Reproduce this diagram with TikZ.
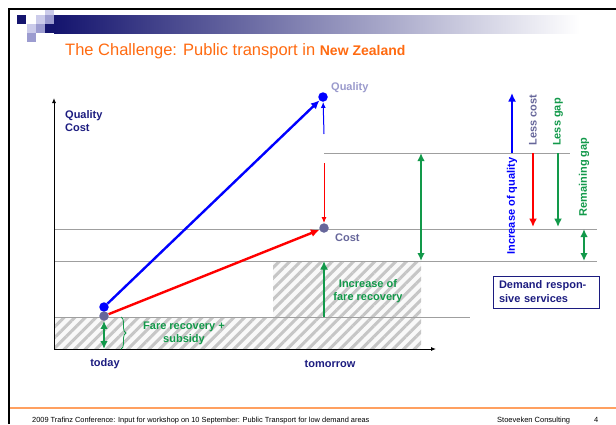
\documentclass[tikz,border=0pt]{standalone}
\usepackage{fontspec}
\setmainfont{Liberation Sans}
\usepackage{tikz}
\usetikzlibrary{arrows.meta,decorations.pathreplacing,patterns.meta,positioning}

\definecolor{navytxt}{HTML}{1C1C80}
\definecolor{barnavy}{HTML}{14146E}
\definecolor{greenarr}{HTML}{12994A}
\definecolor{titleorange}{HTML}{FF6A10}
\definecolor{footorange}{HTML}{FFA060}
\definecolor{lavlight}{HTML}{9A9ACC}
\definecolor{lavdark}{HTML}{66669A}
\definecolor{sqlight}{HTML}{CBCBEA}
\definecolor{sqmid}{HTML}{9C9CD0}

\tikzset{
  txt/.style={inner sep=0pt, font=\fontsize{11}{13}\selectfont},
  btxt/.style={inner sep=0pt, font=\fontsize{11}{13}\selectfont\bfseries},
  ball/.style={circle, inner sep=0pt, minimum size=9.5pt},
  gapline/.style={draw=gray!75, line width=0.9pt},
  hatch/.style={preaction={fill=gray!5}, pattern={Lines[angle=45,distance=7.5pt,line width=3pt]}, pattern color=gray!45},
  fat/.style={line width=2.4pt, -{Latex[length=8.5pt,width=8pt]}},
  fatboth/.style={line width=2.2pt, {Latex[length=8pt,width=7.5pt]}-{Latex[length=8pt,width=7.5pt]}},
  slim/.style={line width=1pt, -{Latex[length=6pt,width=5pt]}},
}

\begin{document}
\begin{tikzpicture}[x=1pt,y=-1pt]
    \useasboundingbox (0,0) rectangle (616,424);

    % slide frame and header
    \draw[line width=2pt] (8.5,424) -- (8.5,9) -- (616,9);
    \shade[left color=barnavy, right color=white] (54,15) rectangle (580,33);
    \fill[barnavy] (45,24) rectangle (54,33);
    \fill[barnavy] (17,15) rectangle (26,24);
    \fill[sqlight] (36,15) rectangle (45,24);
    \fill[sqlight] (45,10) rectangle (54,15);
    \fill[sqmid] (45,15) rectangle (54,24);
    \fill[sqlight] (27,24) rectangle (36,33);
    \fill[sqmid] (36,24) rectangle (45,33);
    \fill[sqmid] (27,33) rectangle (36,42);

    \node (title) at (65,55) [anchor=base west, inner sep=0pt, text=titleorange]
      {\fontsize{16.5}{18}\selectfont The Challenge: Public transport in \fontsize{14}{16}\selectfont\bfseries New Zealand};

    % footer
    \coordinate (fl) at (10,408);
    \coordinate (fr) at (616,408);
    \draw[footorange, line width=1.2pt] (fl) -- (fr);
    \node (foot) at (32,422) [anchor=base west, inner sep=0pt, font=\fontsize{7.4}{9}\selectfont]
      {2009 Trafinz Conference: Input for workshop on 10 September: Public Transport for low demand areas};
    \node (firm) at (497,422) [anchor=base west, inner sep=0pt, font=\fontsize{7.5}{9}\selectfont] {Stoeveken Consulting};
    \node (page) at (594,422) [anchor=base west, inner sep=0pt, font=\fontsize{7.5}{9}\selectfont] {4};

    % hatched areas
    \fill[hatch] (54,317) rectangle (421,349);
    \fill[hatch] (273,261) rectangle (421,317);

    % level lines
    \coordinate (l1a) at (324,153);  \coordinate (l1b) at (570,153);
    \coordinate (l2a) at (54,229);   \coordinate (l2b) at (597,229);
    \coordinate (l3a) at (54,261);   \coordinate (l3b) at (597,261);
    \coordinate (l4a) at (54,317);   \coordinate (l4b) at (470,317);
    \draw[gapline] (l1a) -- (l1b);
    \draw[gapline] (l2a) -- (l2b);
    \draw[gapline] (l3a) -- (l3b);
    \draw[gapline] (l4a) -- (l4b);

    % axes
    \coordinate (origin) at (54,349);
    \coordinate (ytop) at (54,98);
    \coordinate (xend) at (436,349);
    \draw[line width=0.9pt, -{Latex[length=5pt,width=4pt]}] (origin) -- (ytop);
    \draw[line width=0.9pt, -{Latex[length=5pt,width=4pt]}] (origin) -- (xend);

    \node (qc) at (65,110) [anchor=north west, align=left, btxt, text=navytxt] {Quality\\Cost};
    \node (today) at (105,364) [btxt, text=navytxt] {today};
    \node (tomorrow) at (330,364) [btxt, text=navytxt] {tomorrow};

    % points
    \node (qnow) at (104,307) [ball, fill=blue] {};
    \node (cnow) at (104,316) [ball, fill=lavdark] {};
    \node (qnext) at (323,97) [ball, fill=blue] {};
    \node (cnext) at (324,228) [ball, fill=lavdark] {};
    \node (qlbl) at (331,88) [anchor=west, btxt, text=lavlight] {Quality};
    \node (clbl) at (335,238) [anchor=west, btxt, text=lavdark] {Cost};

    \draw[fat, blue] (qnow) -- (qnext);
    \draw[fat, red] (cnow) -- (cnext);

    \coordinate (qgap) at (324,134);
    \coordinate (cgap) at (324,163);
    \draw[slim, blue] (qgap) -- (qnext);
    \draw[slim, red] (cgap) -- (cnext);

    % green gaps
    \coordinate (g1a) at (421,153);  \coordinate (g1b) at (421,261);
    \draw[fatboth, greenarr] (g1a) -- (g1b);
    \coordinate (fr0) at (324,317);  \coordinate (fr1) at (324,261);
    \draw[fat, line width=2pt, greenarr] (fr0) -- (fr1);
    \node (frlbl) at (368,291) [align=center, btxt, text=greenarr] {Increase of\\fare recovery};

    \coordinate (s0) at (104,349);
    \draw[fatboth, greenarr] (cnow) -- (s0);
    \coordinate (b0) at (121,317);  \coordinate (b1) at (121,349);
    \draw[greenarr, line width=0.8pt, decorate, decoration={brace, amplitude=5pt}] (b0) -- (b1);
    \node (sublbl) at (184,333) [align=center, btxt, text=greenarr] {Fare recovery +\\subsidy};

    % right side
    \coordinate (r1a) at (512,153);  \coordinate (r1b) at (512,93);
    \coordinate (r2a) at (533,153);  \coordinate (r2b) at (533,227);
    \coordinate (r3a) at (558,153);  \coordinate (r3b) at (558,227);
    \coordinate (r4a) at (584,229);  \coordinate (r4b) at (584,261);
    \draw[fat, blue] (r1a) -- (r1b);
    \draw[fat, red] (r2a) -- (r2b);
    \draw[fat, greenarr] (r3a) -- (r3b);
    \draw[fatboth, greenarr] (r4a) -- (r4b);
    \node (incq) at (512,206) [rotate=90, btxt, text=blue] {Increase of quality};
    \node (lcost) at (533,120) [rotate=90, btxt, text=lavdark] {Less cost};
    \node (lgap) at (558,122) [rotate=90, btxt, text=greenarr] {Less gap};
    \node (rgap) at (584,177) [rotate=90, btxt, text=greenarr] {Remaining gap};

    \node (drs) at (546,292) [draw=navytxt, line width=1pt, text width=94pt, inner xsep=6pt, minimum height=32pt,
      align=left, font=\fontsize{11}{14}\selectfont\bfseries, text=navytxt] {Demand respon-\\sive services};

\end{tikzpicture}
\end{document}
